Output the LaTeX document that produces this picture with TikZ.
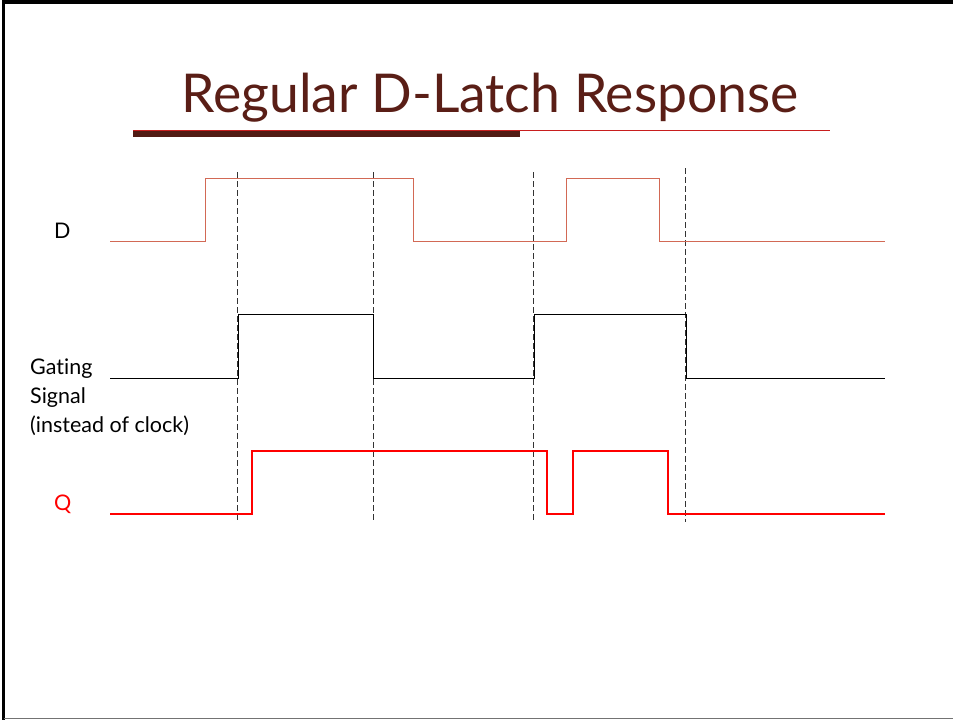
\documentclass[tikz,border=0pt]{standalone}
\usepackage{fontspec}
\setmainfont{Lato}[Ligatures={NoCommon,NoContextual}]
\definecolor{titlebrown}{RGB}{90,30,22}
\definecolor{dline}{RGB}{210,105,85}
\definecolor{qred}{RGB}{255,0,0}
\definecolor{barred}{RGB}{200,30,30}
\begin{document}
\begin{tikzpicture}[x=1pt,y=-1pt,
  sig/.style={line width=1pt},
  dsig/.style={sig,draw=dline},
  gsig/.style={sig,draw=black},
  qsig/.style={line width=2.2pt,draw=qred},
  guide/.style={draw=black!80,line width=0.8pt,dash pattern=on 6pt off 3pt},
  lbl/.style={font=\fontsize{21.5}{29}\selectfont,inner sep=0pt,anchor=base west}]
\useasboundingbox (0,0) rectangle (953,720);
\fill[white] (0,0) rectangle (953,720);
% frame
\draw[line width=3.5pt] (3.5,720) -- (3.5,2) -- (953,2);
\draw[black!55,line width=1pt] (3.5,718.5) -- (953,718.5);
% title
\node[font=\fontsize{53.5}{60}\selectfont,text=titlebrown,anchor=base,inner sep=0pt] (title) at (490,112) {Regular D-Latch Response};
\draw[barred,line width=1pt] (133,130) -- (830,130);
\fill[titlebrown!90!black] (133,131) rectangle (520,137);
% labels
\node[lbl] (lD) at (54,238) {D};
\node[lbl] (lG1) at (30,374) {Gat\kern0pt ing};
\node[lbl] (lG2) at (30,403) {Signal};
\node[lbl] (lG3) at (30,432) {(instead of clock)};
\node[lbl,text=qred] (lQ) at (54,510) {Q};
% guides
\draw[guide] (237,172) -- (237,522);
\draw[guide] (373,172) -- (373,522);
\draw[guide] (533,172) -- (533,522);
\draw[guide] (685,168) -- (685,522);
% D
\draw[dsig] (110,241) -- (205,241) -- (205,178) -- (413,178) -- (413,241) -- (566,241) -- (566,178) -- (659,178) -- (659,241) -- (885,241);
% Gating
\draw[gsig] (110,378) -- (238,378) -- (238,314) -- (373,314) -- (373,378) -- (534,378) -- (534,314) -- (686,314) -- (686,378) -- (885,378);
% Q
\draw[qsig] (110,514) -- (252,514) -- (252,451) -- (547,451) -- (547,514) -- (573,514) -- (573,451) -- (668,451) -- (668,514) -- (885,514);
\end{tikzpicture}
\end{document}
